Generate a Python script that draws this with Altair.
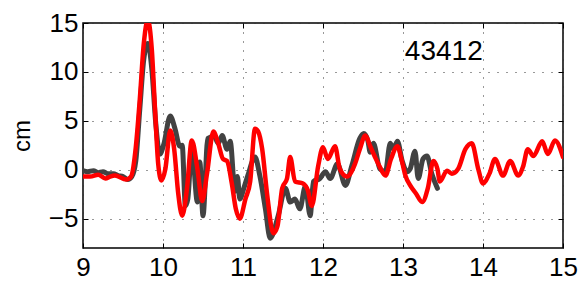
import altair as alt
import pandas as pd

# ---- data ----
red_t = [9.00, 9.09, 9.19, 9.28, 9.34, 9.40, 9.54, 9.60, 9.66, 9.71, 9.76, 9.81, 9.86, 9.90,
         9.94, 9.98, 10.03, 10.09, 10.14, 10.19, 10.24, 10.30, 10.36, 10.43, 10.49, 10.55,
         10.63, 10.69, 10.75, 10.80, 10.86, 10.91, 10.96, 11.03, 11.09, 11.15, 11.19, 11.24,
         11.30, 11.38, 11.43, 11.49, 11.55, 11.59, 11.65, 11.75, 11.81, 11.86, 11.94, 12.00,
         12.06, 12.15, 12.21, 12.30, 12.40, 12.46, 12.53, 12.59, 12.65, 12.71, 12.78, 12.85,
         12.93, 12.98, 13.03, 13.09, 13.16, 13.24, 13.31, 13.38, 13.43, 13.46, 13.55, 13.61,
         13.69, 13.78, 13.86, 13.94, 14.00, 14.08, 14.15, 14.25, 14.34, 14.44, 14.50, 14.56,
         14.63, 14.74, 14.81, 14.90, 15.00]
red_y = [-0.7, -0.7, -0.5, -0.9, -0.7, -0.6, -1.0, -0.7, 2.3, 7.2, 12.9, 15.3, 12.3, 6.2,
         0.6, -1.1, 0.1, 4.0, 2.1, -2.4, -4.7, -1.9, 3.0, 0.1, -3.2, -0.4,
         3.9, 2.7, 1.1, 0.9, -1.4, -4.0, -5.0, -3.0, -1.2, 4.2, 3.9, 2.1,
         -2.4, -6.5, -5.8, -1.9, -0.9, 1.3, -1.2, -1.4, -2.1, -3.7, 0.4, 2.3,
         1.1, 2.4, 0.1, -0.7, 0.6, 2.1, 3.5, 2.4, 1.3, 0.3, -0.6, 1.1,
         2.4, 1.1, -0.6, -1.6, -2.4, -3.3, -1.9, 0.9, 0.1, -1.2, -0.1, -0.4,
         0.1, 2.1, 2.7, 0.1, -1.4, -0.4, 1.1, -0.6, 0.9, -0.6, 0.3, 2.1,
         1.4, 2.9, 1.6, 3.0, 1.3]

gray_t = [9.00, 9.06, 9.13, 9.19, 9.25, 9.31, 9.38, 9.44, 9.50, 9.56, 9.61, 9.66, 9.71, 9.76,
          9.81, 9.86, 9.91, 9.96, 10.01, 10.09, 10.15, 10.21, 10.24, 10.28, 10.31, 10.36,
          10.43, 10.46, 10.50, 10.56, 10.64, 10.69, 10.74, 10.80, 10.84, 10.90, 10.93, 10.96,
          11.01, 11.06, 11.15, 11.21, 11.28, 11.34, 11.44, 11.53, 11.59, 11.65, 11.71, 11.78,
          11.84, 11.88, 11.96, 12.03, 12.09, 12.18, 12.28, 12.36, 12.46, 12.51, 12.56, 12.59,
          12.63, 12.71, 12.78, 12.84, 12.88, 12.93, 12.99, 13.05, 13.09, 13.15, 13.19, 13.25,
          13.30, 13.36, 13.43]
gray_y = [-0.1, -0.2, -0.1, -0.3, -0.2, -0.4, -0.4, -0.6, -0.7, -1.0, -0.7, 0.9, 6.2, 11.3,
          12.9, 10.3, 4.7, 1.6, 2.6, 5.5, 4.2, 2.4, 2.5, -3.7, -3.0, 2.3,
          -3.3, 0.8, -4.7, 3.2, 3.4, 2.7, 3.5, 2.1, 2.9, -2.2, -0.7, -3.0,
          -1.9, -0.6, 1.3, -0.6, -4.0, -7.0, -4.7, -1.9, -3.3, -3.0, -4.0, -1.7,
          -4.7, -1.2, -0.9, -0.2, -0.9, 0.6, -1.6, 0.4, 3.2, 3.7, 3.0, 1.8,
          2.7, 0.1, -0.2, 2.7, 2.1, 2.9, 0.9, -0.2, 0.1, 1.9, -0.9, 1.1,
          1.4, -0.4, -1.9]

x_ticks = [9, 10, 11, 12, 13, 14, 15]
y_ticks = [-5, 0, 5, 10, 15]
x_domain = [9, 15]
y_domain = [-8, 15]

label_text = ["43412"]
label_t = [13.51]
label_v = [12.0]
y_title = "cm"

FONT = "Liberation Sans"

red_df = pd.DataFrame({"t": red_t, "v": red_y})
gray_df = pd.DataFrame({"t": gray_t, "v": gray_y})
lab_df = pd.DataFrame({"t": label_t, "v": label_v, "s": label_text})

xscale = alt.Scale(domain=x_domain, nice=False, zero=False)
yscale = alt.Scale(domain=y_domain, nice=False, zero=False)

grid_common = dict(grid=True, labels=False, ticks=False, domain=False, title=None,
                   gridDash=[1, 8], gridColor="#333333", gridWidth=1, gridOpacity=1)
grid_x = alt.Axis(orient="bottom", values=x_ticks, **grid_common)
grid_y = alt.Axis(orient="left", values=y_ticks, **grid_common)

lab_common = dict(grid=False, domain=False, ticks=True, tickSize=5, tickColor="black",
                  tickWidth=1, offset=-5, labelFont=FONT, labelFontSize=26,
                  labelColor="black", labelOverlap=False, labelFlush=False, format="d")
main_x = alt.Axis(orient="bottom", values=x_ticks, labelPadding=6, title=None, **lab_common)
main_y = alt.Axis(orient="left", values=y_ticks, labelPadding=5, title=y_title,
                  titleFont=FONT, titleFontSize=24, titleFontWeight="normal",
                  titleColor="black", titlePadding=14, **lab_common)

tick_common = dict(grid=False, domain=False, labels=False, ticks=True, tickSize=5,
                   tickColor="black", tickWidth=1, offset=-5, title=None)
top_x = alt.Axis(orient="top", values=x_ticks, **tick_common)
right_y = alt.Axis(orient="right", values=y_ticks, **tick_common)

gray = alt.Chart(gray_df).mark_line(
    color="#424242", strokeWidth=5, interpolate="monotone", clip=True,
    strokeCap="round", strokeJoin="round"
).encode(
    x=alt.X("t:Q", scale=xscale, axis=grid_x),
    y=alt.Y("v:Q", scale=yscale, axis=grid_y),
)

red = alt.Chart(red_df).mark_line(
    color="#ff0000", strokeWidth=4.5, interpolate="monotone", clip=True,
    strokeCap="round", strokeJoin="round"
).encode(
    x=alt.X("t:Q", scale=xscale, axis=main_x),
    y=alt.Y("v:Q", scale=yscale, axis=main_y),
)

text = alt.Chart(lab_df).mark_text(
    font=FONT, fontSize=28, color="black", align="center", baseline="middle"
).encode(
    x=alt.X("t:Q", scale=xscale, axis=top_x),
    y=alt.Y("v:Q", scale=yscale, axis=right_y),
    text="s:N",
)

chart = alt.layer(gray, red, text).resolve_axis(
    x="independent", y="independent"
).properties(
    width=480, height=225,
    padding={"left": 83, "top": 23, "right": 25, "bottom": 36},
    autosize=alt.AutoSizeParams(type="none"),
    background="white",
).configure_view(stroke="black", strokeWidth=1.5)

chart.save("out.html", embed_options={"renderer": "svg", "actions": False})
